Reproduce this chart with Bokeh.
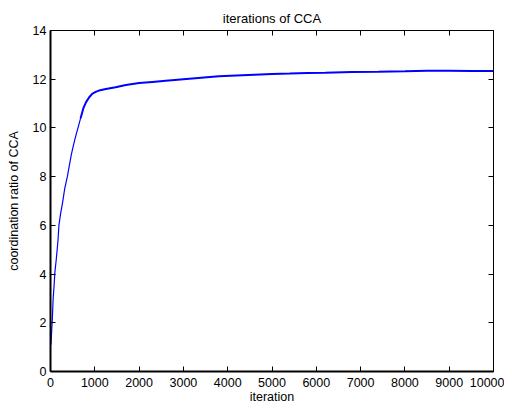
from bokeh.plotting import figure
from bokeh.models import Range1d, LinearAxis, FixedTicker
from bokeh.embed import file_html
from bokeh.resources import INLINE

# data
iteration = [10, 30, 40, 60, 80, 100, 130, 150, 170, 190, 230, 270, 320, 380, 420,
             470, 520, 560, 620, 680, 740, 800, 870, 940, 1020, 1120, 1250, 1470,
             1700, 2000, 2300, 2600, 3000, 3400, 3800, 4200, 4600, 5000, 5400,
             5800, 6200, 6800, 7400, 8000, 8500, 9000, 9500, 10000]
ratio = [1.1, 1.8, 2.1, 3.0, 3.5, 4.1, 4.6, 5.0, 5.4, 6.0, 6.5, 6.9, 7.5, 8.0, 8.4,
         8.9, 9.3, 9.6, 10.0, 10.4, 10.8, 11.05, 11.25, 11.4, 11.48, 11.55, 11.6, 11.67,
         11.76, 11.84, 11.89, 11.94, 12.0, 12.06, 12.12, 12.15, 12.18, 12.21, 12.23,
         12.26, 12.27, 12.3, 12.31, 12.33, 12.35, 12.35, 12.34, 12.34]
x_ticks = [0, 1000, 2000, 3000, 4000, 5000, 6000, 7000, 8000, 9000, 10000]
y_ticks = [0, 2, 4, 6, 8, 10, 12, 14]

FONT = "Liberation Sans"

p = figure(width=504, height=406, output_backend="svg", toolbar_location=None,
           x_range=Range1d(0, 10000), y_range=Range1d(0, 14),
           title="iterations of CCA",
           min_border_left=50, min_border_right=11, min_border_top=30, min_border_bottom=30)
p.title.align = "center"
p.title.text_font = FONT
p.title.text_font_size = "13px"
p.title.text_font_style = "normal"
p.title.text_color = "black"
p.title.standoff = 10

p.xgrid.visible = False
p.ygrid.visible = False
p.outline_line_color = "black"
p.outline_line_width = 1
p.background_fill_color = "white"
p.border_fill_color = "white"

n_early = 19
p.line(iteration[:n_early + 1], ratio[:n_early + 1], line_color="#0000ff", line_width=1.2)
p.line(iteration[n_early:], ratio[n_early:], line_color="#0000ff", line_width=2.0)

for ax, ticks in ((p.xaxis[0], x_ticks), (p.yaxis[0], y_ticks)):
    ax.ticker = FixedTicker(ticks=ticks)
    ax.major_tick_in = 5
    ax.major_tick_out = 0
    ax.minor_tick_line_color = None
    ax.axis_line_color = "black"
    ax.axis_line_width = 2
    ax.major_tick_line_color = "black"
    ax.major_label_text_font = FONT
    ax.major_label_text_font_size = "12.5px"
    ax.major_label_text_color = "black"
    ax.axis_label_text_font = FONT
    ax.axis_label_text_font_size = "12.5px"
    ax.axis_label_text_font_style = "normal"
    ax.axis_label_text_color = "black"

p.xaxis.axis_label = "iteration"
p.yaxis.axis_label = "coordination ratio of CCA"
p.xaxis.major_label_standoff = 6
p.xaxis.axis_label_standoff = 0
p.yaxis.major_label_standoff = 4
p.yaxis.axis_label_standoff = 9

for loc, ticks in (("right", y_ticks), ("above", x_ticks)):
    ax = LinearAxis(ticker=FixedTicker(ticks=ticks))
    ax.major_tick_in = 5
    ax.major_tick_out = 0
    ax.minor_tick_line_color = None
    ax.axis_line_color = "black"
    ax.major_label_text_font_size = "0px"
    ax.major_label_text_color = None
    ax.major_label_standoff = 0
    p.add_layout(ax, loc)

open("out.html", "w").write(file_html(p, INLINE))
